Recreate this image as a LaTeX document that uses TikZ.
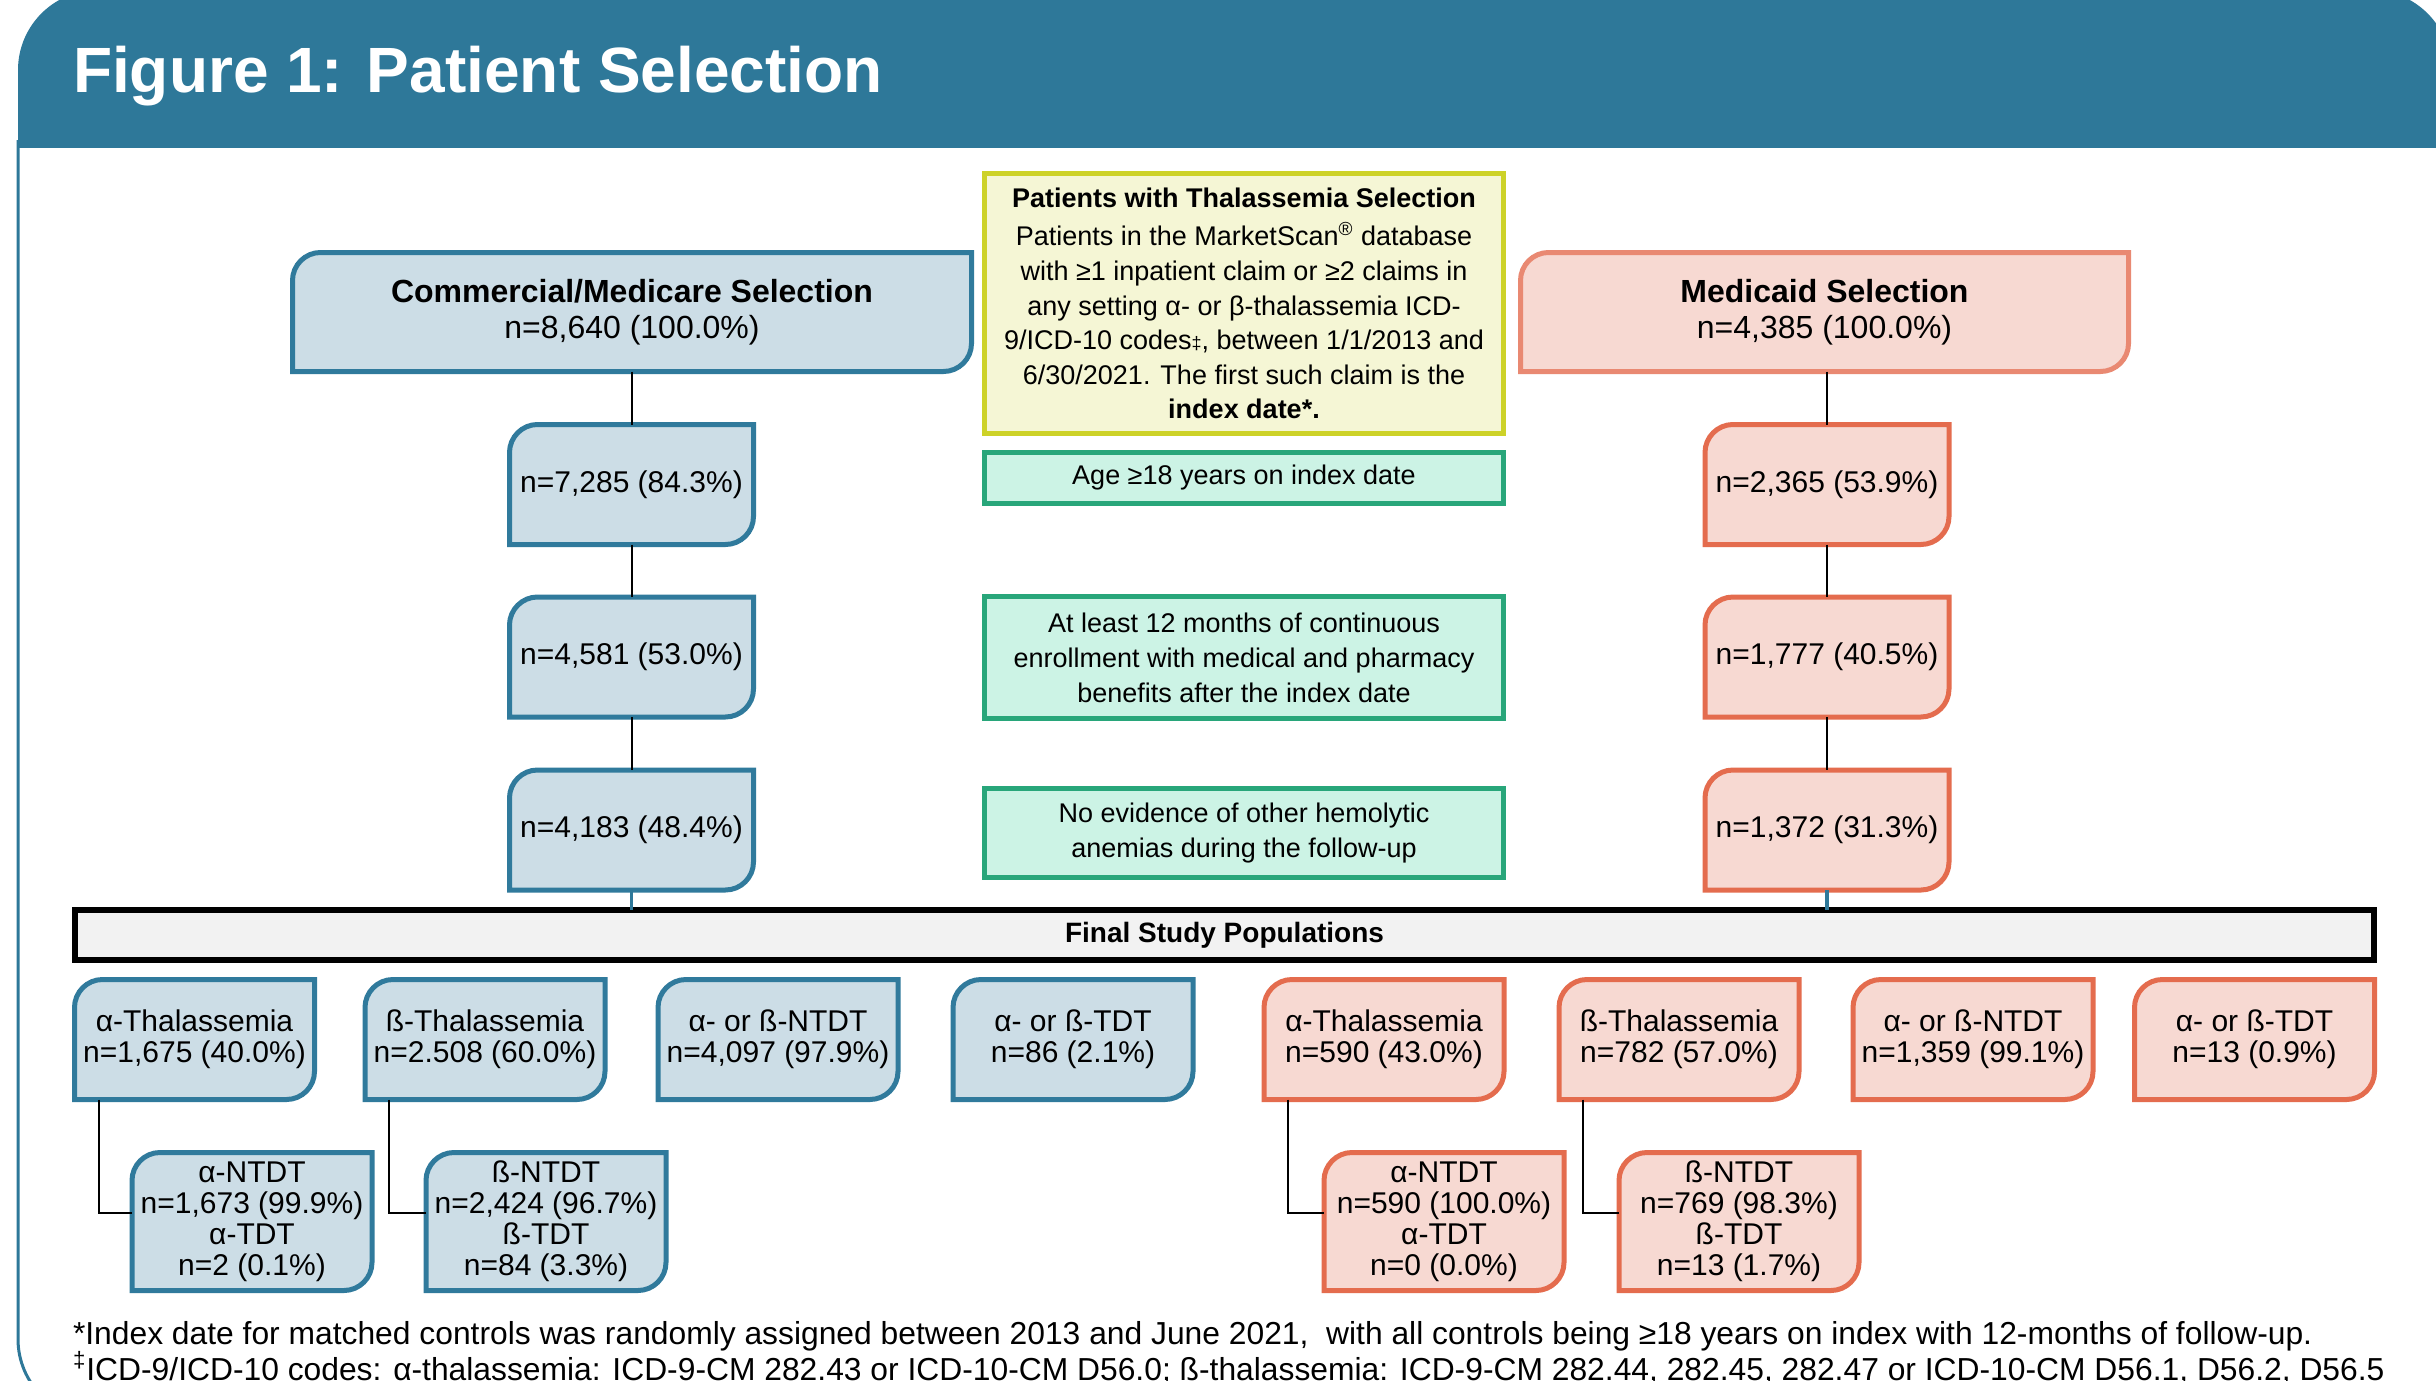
\documentclass[tikz,border=0pt]{standalone}
\usepackage{fontspec}
\setmainfont{Liberation Sans}
\usetikzlibrary{calc}
\pgfdeclarelayer{background}
\pgfsetlayers{background,main}

\definecolor{band}{RGB}{46,120,153}
\definecolor{bluebd}{RGB}{48,122,156}
\definecolor{bluefill}{RGB}{204,221,230}
\definecolor{redbd}{RGB}{228,108,78}
\definecolor{redbdlt}{RGB}{233,137,114}
\definecolor{redfill}{RGB}{247,217,210}
\definecolor{yelbd}{RGB}{205,210,40}
\definecolor{yelfill}{RGB}{245,246,213}
\definecolor{grnbd}{RGB}{40,166,122}
\definecolor{grnfill}{RGB}{204,243,229}
\definecolor{finfill}{RGB}{242,242,242}

\def\crA{14pt}
\def\crB{6.3pt}
\newcommand\diagshape[2]{%
 \begin{pgfonlayer}{background}
 \filldraw[#2] ([yshift=-\crA]#1.north west) .. controls ([yshift=-\crB]#1.north west) and ([xshift=\crB]#1.north west) .. ([xshift=\crA]#1.north west) -- (#1.north east) -- ([yshift=\crA]#1.south east) .. controls ([yshift=\crB]#1.south east) and ([xshift=-\crB]#1.south east) .. ([xshift=-\crA]#1.south east) -- (#1.south west) -- cycle;
 \end{pgfonlayer}}

\tikzset{
 every node/.style={inner sep=0pt, outer sep=0pt},
 topbox/.style={minimum height=59.5pt, align=center, font=\fontsize{16pt}{18pt}\selectfont},
 sidebox/.style={minimum width=122pt, minimum height=60pt, align=center, font=\fontsize{15pt}{18pt}\selectfont},
 popbox/.style={minimum width=120pt, minimum height=60pt, align=center, font=\fontsize{15pt}{15.5pt}\selectfont},
 subbox/.style={minimum width=120pt, minimum height=69pt, align=center, font=\fontsize{15pt}{15.5pt}\selectfont},
 critbox/.style={draw=grnbd, fill=grnfill, line width=2.5pt, minimum width=259.5pt, align=center, font=\fontsize{13.5pt}{17.5pt}\selectfont},
 blueshape/.style={draw=bluebd, fill=bluefill, line width=2.5pt},
 redshape/.style={draw=redbd, fill=redfill, line width=2.5pt},
 redshapelt/.style={draw=redbdlt, fill=redfill, line width=2.5pt},
 conn/.style={draw=black, line width=1pt},
 connb/.style={draw=band, line width=1.8pt},
 footnote/.style={anchor=base west, font=\fontsize{15.9pt}{18pt}\selectfont},
}

\begin{document}
\begin{tikzpicture}[x=0.5pt, y=-0.5pt]
\useasboundingbox (0,0) rectangle (2436,1381);
\begin{pgfonlayer}{background}
\fill[white] (0,0) rectangle (2436,1381);
\end{pgfonlayer}
% panel border
\begin{scope}
 \clip (0,140) rectangle (2436,1381);
 \draw[band, line width=1.5pt, rounded corners=40pt] (18,-10) rectangle (2451,1419);
\end{scope}
% header band
\begin{scope}
 \clip (0,-20) rectangle (2436,147);
 \fill[band, rounded corners=40pt] (18,-10) rectangle (2451,300);
\end{scope}
\node[anchor=base west, text=white, font=\fontsize{32pt}{32pt}\selectfont\bfseries] (title) at (73,92) {Figure 1: Patient Selection};

% top boxes
\node[topbox, minimum width=339.5pt] (cm) at (632,312) {\textbf{Commercial/Medicare Selection}\\n=8,640 (100.0\%)};
\diagshape{cm}{blueshape}
\node[topbox, minimum width=304pt] (md) at (1824.5,312) {\textbf{Medicaid Selection}\\n=4,385 (100.0\%)};
\diagshape{md}{redshapelt}

% selection criteria
\node[draw=yelbd, fill=yelfill, line width=2.5pt, minimum width=259.5pt, minimum height=130pt, align=center, font=\fontsize{13.5pt}{17.3pt}\selectfont] (sel) at (1244,303.5)
 {\textbf{Patients with Thalassemia Selection}\\[2pt]
 Patients in the MarketScan\textsuperscript{®} database\\
 with ≥1 inpatient claim or ≥2 claims in\\
 any setting α- or β-thalassemia ICD-\\
 9/ICD-10 codes{\fontsize{9pt}{9pt}\selectfont ‡}, between 1/1/2013 and\\
 6/30/2021. The first such claim is the\\
 \textbf{index date*.}};
\node[critbox, minimum height=25.5pt] (age) at (1244,478) {\raisebox{-1pt}{Age ≥18 years on index date}};
\node[critbox, minimum height=61pt] (enr) at (1244,657.5) {At least 12 months of continuous\\enrollment with medical and pharmacy\\benefits after the index date};
\node[critbox, minimum height=44.5pt] (hem) at (1244,833) {No evidence of other hemolytic\\anemias during the follow-up};

% side columns
\node[sidebox] (b1) at (631.5,484.5) {n=7,285 (84.3\%)};
\node[sidebox] (b2) at (631.5,657) {n=4,581 (53.0\%)};
\node[sidebox] (b3) at (631.5,830) {n=4,183 (48.4\%)};
\node[sidebox] (r1) at (1827,484.5) {n=2,365 (53.9\%)};
\node[sidebox] (r2) at (1827,657) {n=1,777 (40.5\%)};
\node[sidebox] (r3) at (1827,830) {n=1,372 (31.3\%)};
\diagshape{b1}{blueshape}
\diagshape{b2}{blueshape}
\diagshape{b3}{blueshape}
\diagshape{r1}{redshape}
\diagshape{r2}{redshape}
\diagshape{r3}{redshape}

% final bar
\node[draw=black, fill=finfill, line width=3pt, minimum width=1149.5pt, minimum height=25pt, font=\fontsize{14pt}{16pt}\selectfont\bfseries] (final) at (1224.5,935) {Final Study Populations};

% populations
\node[popbox] (ba) at (194.5,1039.5) {α-Thalassemia\\n=1,675 (40.0\%)};
\node[popbox] (bb) at (485,1039.5) {ß-Thalassemia\\n=2.508 (60.0\%)};
\node[popbox] (bn) at (778,1039.5) {α- or ß-NTDT\\n=4,097 (97.9\%)};
\node[popbox] (bt) at (1073,1039.5) {α- or ß-TDT\\n=86 (2.1\%)};
\node[popbox] (ra) at (1384,1039.5) {α-Thalassemia\\n=590 (43.0\%)};
\node[popbox] (rb) at (1679,1039.5) {ß-Thalassemia\\n=782 (57.0\%)};
\node[popbox] (rn) at (1973,1039.5) {α- or ß-NTDT\\n=1,359 (99.1\%)};
\node[popbox] (rt) at (2254.5,1039.5) {α- or ß-TDT\\n=13 (0.9\%)};
\diagshape{ba}{blueshape}
\diagshape{bb}{blueshape}
\diagshape{bn}{blueshape}
\diagshape{bt}{blueshape}
\diagshape{ra}{redshape}
\diagshape{rb}{redshape}
\diagshape{rn}{redshape}
\diagshape{rt}{redshape}

\node[subbox] (bas) at (252,1221.5) {α-NTDT\\n=1,673 (99.9\%)\\α-TDT\\n=2 (0.1\%)};
\node[subbox] (bbs) at (546,1221.5) {ß-NTDT\\n=2,424 (96.7\%)\\ß-TDT\\n=84 (3.3\%)};
\node[subbox] (ras) at (1444,1221.5) {α-NTDT\\n=590 (100.0\%)\\α-TDT\\n=0 (0.0\%)};
\node[subbox] (rbs) at (1739,1221.5) {ß-NTDT\\n=769 (98.3\%)\\ß-TDT\\n=13 (1.7\%)};
\diagshape{bas}{blueshape}
\diagshape{bbs}{blueshape}
\diagshape{ras}{redshape}
\diagshape{rbs}{redshape}

% connectors
\draw[conn] (cm.south -| b1.north) -- (b1.north);
\draw[conn] (b1) -- (b2);
\draw[conn] (b2) -- (b3);
\draw[connb] (b3.south) -- (b3.south |- final.north);
\draw[conn] (md.south -| r1.north) -- (r1.north);
\draw[conn] (r1) -- (r2);
\draw[conn] (r2) -- (r3);
\draw[connb] (r3.south) -- (r3.south |- final.north);
\draw[conn] ([xshift=12pt]ba.south west) |- ([yshift=4.5pt]bas.west);
\draw[conn] ([xshift=12pt]bb.south west) |- ([yshift=4.5pt]bbs.west);
\draw[conn] ([xshift=12pt]ra.south west) |- ([yshift=4.5pt]ras.west);
\draw[conn] ([xshift=12pt]rb.south west) |- ([yshift=4.5pt]rbs.west);

% footnotes
\node[footnote] (fn1) at (73,1344) {*Index date for matched controls was randomly assigned between 2013 and June 2021,\ \ with all controls being ≥18 years on index with 12-months of follow-up.};
\node[footnote] (fn2) at (73,1380) {\textsuperscript{‡}ICD-9/ICD-10 codes: α-thalassemia: ICD-9-CM 282.43 or ICD-10-CM D56.0; ß-thalassemia: ICD-9-CM 282.44, 282.45, 282.47 or ICD-10-CM D56.1, D56.2, D56.5};
\end{tikzpicture}
\end{document}
